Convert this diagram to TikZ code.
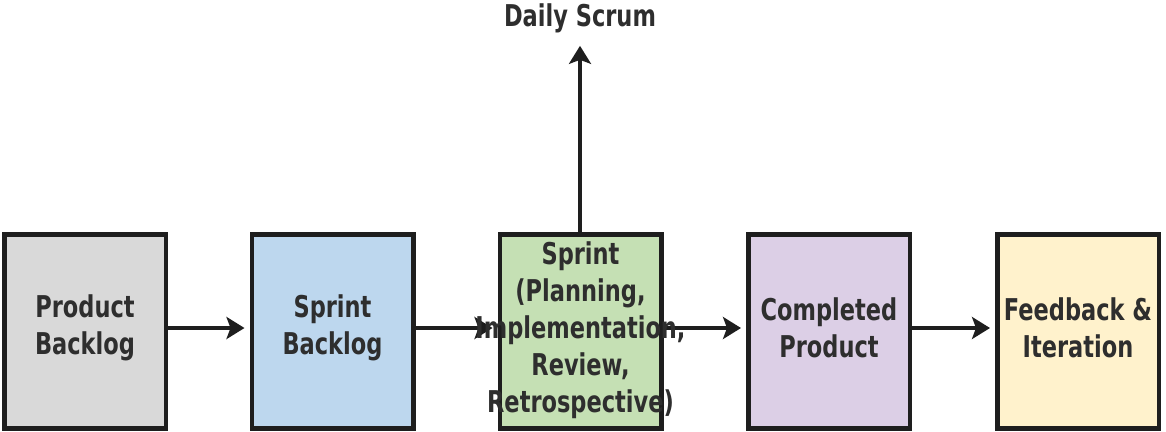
\documentclass[tikz,border=0pt]{standalone}
\usepackage{fontspec}
\setmainfont{DejaVu Sans}[FakeStretch=0.75]
\usetikzlibrary{arrows.meta}
\definecolor{edge}{HTML}{1E1E1E}
\definecolor{ink}{HTML}{2E2E2E}
\definecolor{cgray}{HTML}{D9D9D9}
\definecolor{cblue}{HTML}{BDD7EE}
\definecolor{cgreen}{HTML}{C5E0B4}
\definecolor{cpurple}{HTML}{DCCFE6}
\definecolor{cyellow}{HTML}{FFF2CC}
\tikzset{
  stagebox/.style={draw=edge, line width=4.5pt, minimum width=161.5pt, minimum height=194pt, inner sep=0pt},
  lbl/.style={text=ink, font=\bfseries\fontsize{30}{37}\selectfont, align=center, inner sep=0pt},
  flow/.style={draw=edge, line width=4.5pt, -{Stealth[length=18pt,width=22pt,inset=4pt]}, shorten >=5pt}
}
\begin{document}
\begin{tikzpicture}[x=1pt,y=-1pt]
\useasboundingbox (0,0) rectangle (1166,431);
\node[stagebox, fill=cgray]   (b1) at (85,331.5)  {};
\node[stagebox, fill=cblue]   (b2) at (332.5,331.5) {};
\node[stagebox, fill=cgreen]  (b3) at (580.5,331.5) {};
\node[stagebox, fill=cpurple] (b4) at (829,331.5) {};
\node[stagebox, fill=cyellow] (b5) at (1078,331.5) {};
\coordinate (r1) at (b1.east |- 0,328);
\coordinate (l2) at (b2.west |- 0,328);
\coordinate (r2) at (b2.east |- 0,328);
\coordinate (l3) at (b3.west |- 0,328);
\coordinate (r3) at (b3.east |- 0,328);
\coordinate (l4) at (b4.west |- 0,328);
\coordinate (r4) at (b4.east |- 0,328);
\coordinate (l5) at (b5.west |- 0,328);
\node[lbl] (ds) at (580,18) {Daily Scrum};
\coordinate (top3) at (580,232);
\draw[flow] (r1) -- (l2);
\draw[flow] (r2) -- (l3);
\draw[flow] (r3) -- (l4);
\draw[flow] (r4) -- (l5);
\draw[flow, shorten >=13pt] (top3) -- (ds.south);
\node[lbl] (t1) at (85,328) {Product\\Backlog};
\node[lbl] (t2) at (332.5,328) {Sprint\\Backlog};
\node[lbl] (t3) at (580.5,330) {Sprint\\(Planning,\\Implementation,\\Review,\\Retrospective)};
\node[lbl] (t4) at (829,328) {Completed\\Product};
\node[lbl] (t5) at (1078,328) {Feedback \&\\Iteration};
\end{tikzpicture}
\end{document}
